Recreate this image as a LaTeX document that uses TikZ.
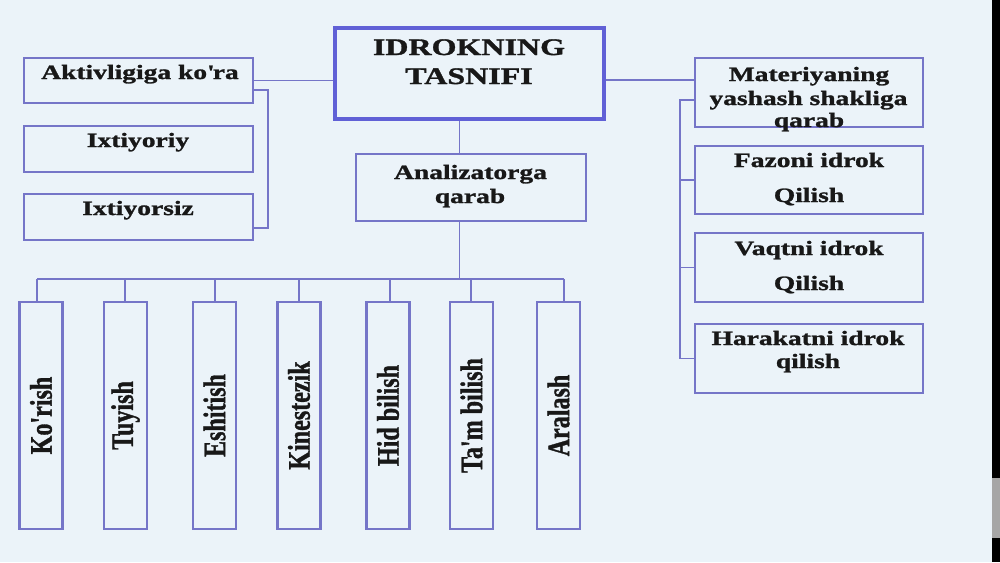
\documentclass[tikz,border=0pt]{standalone}
\usepackage{fontspec}
\usepackage{graphicx}
\setmainfont{Liberation Serif}[FakeStretch=1.35, BoldFeatures={FakeBold=1.3}]
\newfontfamily\vfont{Liberation Serif}[BoldFeatures={FakeBold=1.3}]
\definecolor{slidebg}{HTML}{EBF3F9}
\definecolor{boxline}{HTML}{7575C8}
\definecolor{mainline}{HTML}{6060D6}
\definecolor{txtcol}{HTML}{181818}
\tikzset{
  box/.style={draw=boxline, line width=1.2pt, inner sep=0pt},
  lbl/.style={anchor=base, inner sep=0pt, text=txtcol, font=\fontsize{11.6}{14}\selectfont\bfseries},
  biglbl/.style={lbl, font=\fontsize{13.5}{17}\selectfont\bfseries},
  vlbl/.style={rotate=90, inner sep=0pt, text=txtcol, font=\vfont\fontsize{13.7}{16}\selectfont\bfseries},
  link/.style={draw=boxline, line width=1.05pt},
}
\begin{document}
\begin{tikzpicture}[x=0.02cm, y=-0.02cm]
\fill[slidebg] (0,0) rectangle (1000,562);
\useasboundingbox (0,0) rectangle (1000,562);
\fill[black] (992,0) rectangle (1000,562);
\fill[gray!70] (992,478) rectangle (1000,538);

% main box
\node[box, draw=mainline, line width=1.8pt, minimum width=5.38cm, minimum height=1.82cm] (idrok) at (469.5,73.5) {};
\node[biglbl] (idrok-1) at (469,55) {IDROKNING};
\node[biglbl] (idrok-2) at (469,84) {TASNIFI};

\node[box, minimum width=4.6cm, minimum height=1.34cm] (analiz) at (471,187.5) {};
\node[lbl] (analiz-1) at (470.5,179) {Analizatorga};
\node[lbl] (analiz-2) at (470,203) {qarab};

% left branch
\node[box, minimum width=4.58cm, minimum height=0.9cm] (aktiv) at (138.5,80.5) {};
\node[box, minimum width=4.58cm, minimum height=0.92cm] (ixtiy) at (138.5,149) {};
\node[box, minimum width=4.58cm, minimum height=0.92cm] (ixtsiz) at (138.5,217) {};
\node[lbl] (aktiv-t) at (140,79) {Aktivligiga ko\textquotesingle ra};
\node[lbl] (ixtiy-t) at (138,147) {Ixtiyoriy};
\node[lbl] (ixtsiz-t) at (138,215) {Ixtiyorsiz};

\draw[link] (aktiv.east) -- (aktiv.east -| idrok.west);
\coordinate (lbar-t) at (268,90);
\coordinate (lbar-b) at (268,228);
\draw[link] (aktiv.east |- lbar-t) -- (lbar-t) -- (lbar-b) -- (ixtsiz.east |- lbar-b);

% right branch
\node[box, minimum width=4.56cm, minimum height=1.38cm] (mater) at (809,92.5) {};
\node[box, minimum width=4.56cm, minimum height=1.36cm] (fazo) at (809,180) {};
\node[box, minimum width=4.56cm, minimum height=1.38cm] (vaqt) at (809,267.5) {};
\node[box, minimum width=4.56cm, minimum height=1.38cm] (harak) at (809,358.5) {};
\node[lbl] (mater-1) at (809,81) {Materiyaning};
\node[lbl] (mater-2) at (808.5,105) {yashash shakliga};
\node[lbl] (mater-3) at (809,127) {qarab};
\node[lbl] (fazo-1) at (809,167) {Fazoni idrok};
\node[lbl] (fazo-2) at (809,202) {Qilish};
\node[lbl] (vaqt-1) at (809,255) {Vaqtni idrok};
\node[lbl] (vaqt-2) at (809,290) {Qilish};
\node[lbl] (harak-1) at (808,345) {Harakatni idrok};
\node[lbl] (harak-2) at (808,368) {qilish};

\coordinate (hline) at (0,80);
\draw[link] (idrok.east |- hline) -- (mater.west |- hline);
\coordinate (rbar-t) at (680,100);
\draw[link] (mater.west |- rbar-t) -- (rbar-t) |- (harak.west);
\draw[link] (fazo.west) -- (fazo.west -| rbar-t);
\draw[link] (vaqt.west) -- (vaqt.west -| rbar-t);

% analyser branch
\coordinate (spine) at (459.5,0);
\coordinate (bus-l) at (37,279);
\coordinate (bus-r) at (564,279);
\draw[link] (idrok.south -| spine) -- (analiz.north -| spine);
\draw[link] (analiz.south -| spine) -- (spine |- bus-l);
\draw[link] (bus-l) -- (bus-r);
\foreach \nm/\cx/\dx/\txt in {korish/41/37/{Ko\textquotesingle rish}, tuyish/125.5/125/Tuyish,
    eshit/214.5/215/Eshitish, kines/299/299/Kinestezik, hid/388/390/Hid bilish,
    tam/471.5/471/{Ta\textquotesingle m bilish}, aral/558.5/564/Aralash} {
  \node[box, minimum width=0.86cm, minimum height=4.54cm] (\nm) at (\cx,415.5) {};
  \node[vlbl] (\nm-t) at (\nm.center) {\scalebox{1}[1.3]{\txt}};
  \draw[link] (\nm.north -| \dx,0) -- (bus-l -| \dx,0);
}
\end{tikzpicture}
\end{document}
